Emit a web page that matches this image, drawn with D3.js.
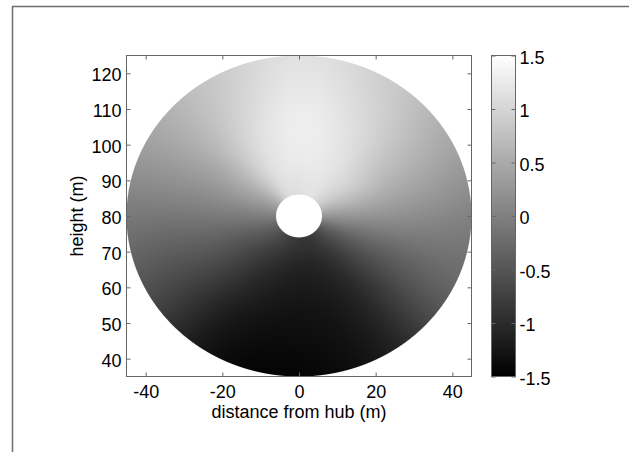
<!DOCTYPE html>
<html>
<head>
    <meta charset="utf-8">
    <title>Rotor disk field</title>
    <script src="https://d3js.org/d3.v7.min.js"></script>
    <style>
        body { margin: 0; background: #fff; }
        text { font-family: "Liberation Sans", Arial, sans-serif; }
    </style>
</head>
<body>
    <div id="chart"></div>

    <script>
        // axis ticks
        const xTicks = [-40, -20, 0, 20, 40];
        const yTicks = [40, 50, 60, 70, 80, 90, 100, 110, 120];
        const cTicks = [-1.5, -1, -0.5, 0, 0.5, 1, 1.5];

        // rotor geometry (m)
        const hubX = 0, hubY = 80;
        const hubRadius = 6, rotorRadius = 45;

        // field sampled on a polar grid (angle in degrees, counter-clockwise from +x)
        const radii = [6, 15, 25, 35, 45];
        const angles = [0, 30, 60, 90, 120, 150, 180, 210, 240, 270, 300, 330];
        const values = [
            [0.25, 0.25, 0.20, 0.12, 0.03],     // 0
            [0.85, 0.90, 0.74, 0.62, 0.50],     // 30
            [1.15, 1.20, 1.15, 1.03, 0.92],     // 60
            [1.12, 1.25, 1.30, 1.23, 1.15],     // 90
            [1.03, 1.10, 1.05, 0.93, 0.85],     // 120
            [0.45, 0.50, 0.45, 0.44, 0.44],     // 150
            [0.00, -0.05, -0.08, -0.10, -0.08], // 180
            [-0.40, -0.55, -0.60, -0.65, -0.62],// 210
            [-0.70, -0.92, -1.10, -1.24, -1.32],// 240
            [-0.85, -1.10, -1.26, -1.36, -1.44],// 270
            [-0.80, -0.98, -1.10, -1.15, -1.18],// 300
            [-0.45, -0.50, -0.50, -0.44, -0.38] // 330
        ];

        const width = 629, height = 452;
        const plot = {left: 126.5, right: 471.5, top: 55.5, bottom: 376.5};
        const cbar = {left: 491.5, right: 515.5};

        const svg = d3.select("#chart").append("svg")
            .attr("width", width)
            .attr("height", height);

        // outer frame
        svg.append("rect")
            .attr("x", 12.5).attr("y", 6.5)
            .attr("width", 700).attr("height", 500)
            .attr("fill", "none")
            .attr("stroke", "#6e6e6e")
            .attr("stroke-width", 1.5);

        const x = d3.scaleLinear().domain([-45, 45]).range([plot.left, plot.right]);
        const y = d3.scaleLinear().domain([35, 125]).range([plot.bottom, plot.top]);
        const c = d3.scaleLinear().domain([-1.5, 1.5]).range([plot.bottom, plot.top]);
        const color = d3.scaleLinear().domain([-1.5, 1.5]).range(["#000", "#fff"]).clamp(true);

        // Catmull-Rom through four samples
        function cr(p0, p1, p2, p3, t) {
            const t2 = t * t, t3 = t2 * t;
            return 0.5 * (2 * p1 + (-p0 + p2) * t + (2 * p0 - 5 * p1 + 4 * p2 - p3) * t2 + (-p0 + 3 * p1 - 3 * p2 + p3) * t3);
        }

        function alongRadius(row, r) {
            let k = 0;
            while (k < radii.length - 2 && r > radii[k + 1]) k++;
            const t = Math.max(0, Math.min(1, (r - radii[k]) / (radii[k + 1] - radii[k])));
            const p0 = row[Math.max(0, k - 1)], p1 = row[k], p2 = row[k + 1];
            const p3 = row[Math.min(radii.length - 1, k + 2)];
            return cr(p0, p1, p2, p3, t);
        }

        function sample(theta, r) {
            const n = angles.length;
            const step = 360 / n;
            const i1 = Math.floor(theta / step) % n;
            const t = theta / step - Math.floor(theta / step);
            const v = [-1, 0, 1, 2].map(o => alongRadius(values[(i1 + o + n) % n], r));
            return cr(v[0], v[1], v[2], v[3], t);
        }

        // draw the field into a canvas, using the scales for pixel -> data mapping
        const x0 = Math.floor(plot.left), y0 = Math.floor(plot.top);
        const W = Math.ceil(plot.right) - x0, H = Math.ceil(plot.bottom) - y0;
        const canvas = document.createElement("canvas");
        canvas.width = W; canvas.height = H;
        const ctx = canvas.getContext("2d");
        const img = ctx.createImageData(W, H);
        const pxPerUnit = Math.abs(y(0) - y(1));
        for (let j = 0; j < H; j++) {
            for (let i = 0; i < W; i++) {
                const xv = x.invert(x0 + i + 0.5);
                const yv = y.invert(y0 + j + 0.5);
                const dx = xv - hubX, dy = yv - hubY;
                const r = Math.hypot(dx, dy);
                const aOut = Math.max(0, Math.min(1, (rotorRadius - r) * pxPerUnit + 0.5));
                const aIn = Math.max(0, Math.min(1, (r - hubRadius) * pxPerUnit + 0.5));
                const alpha = Math.min(aOut, aIn);
                if (alpha <= 0) continue;
                let th = Math.atan2(dy, dx) * 180 / Math.PI;
                if (th < 0) th += 360;
                const col = d3.rgb(color(sample(th, r)));
                const p = (j * W + i) * 4;
                img.data[p] = col.r;
                img.data[p + 1] = col.g;
                img.data[p + 2] = col.b;
                img.data[p + 3] = Math.round(alpha * 255);
            }
        }
        ctx.putImageData(img, 0, 0);

        svg.append("image")
            .attr("x", x0).attr("y", y0)
            .attr("width", W).attr("height", H)
            .attr("href", canvas.toDataURL());

        const tickColor = "#666";
        const fmt = d => String(d);
        function styleAxis(g) {
            g.select(".domain").remove();
            g.selectAll(".tick line").attr("stroke", tickColor);
            g.selectAll(".tick text")
                .attr("fill", "#000")
                .attr("font-size", 18)
                .attr("font-family", "'Liberation Sans', Arial, sans-serif");
        }

        svg.append("g")
            .attr("transform", "translate(0," + plot.bottom + ")")
            .call(d3.axisBottom(x).tickValues(xTicks).tickFormat(fmt).tickSizeInner(-4).tickSizeOuter(0).tickPadding(9))
            .call(styleAxis);
        svg.append("g")
            .attr("transform", "translate(0," + plot.top + ")")
            .call(d3.axisTop(x).tickValues(xTicks).tickSizeInner(-4).tickSizeOuter(0).tickFormat(""))
            .call(styleAxis);
        svg.append("g")
            .attr("transform", "translate(" + plot.left + ",0)")
            .call(d3.axisLeft(y).tickValues(yTicks).tickFormat(fmt).tickSizeInner(-4).tickSizeOuter(0).tickPadding(5))
            .call(styleAxis)
            .selectAll(".tick text").attr("dy", "0.42em");
        svg.append("g")
            .attr("transform", "translate(" + plot.right + ",0)")
            .call(d3.axisRight(y).tickValues(yTicks).tickSizeInner(-4).tickSizeOuter(0).tickFormat(""))
            .call(styleAxis);

        svg.append("rect")
            .attr("x", plot.left).attr("y", plot.top)
            .attr("width", plot.right - plot.left)
            .attr("height", plot.bottom - plot.top)
            .attr("fill", "none")
            .attr("stroke", tickColor);

        // colorbar
        const grad = svg.append("defs").append("linearGradient")
            .attr("id", "cgrad")
            .attr("x1", 0).attr("y1", 1).attr("x2", 0).attr("y2", 0);
        grad.selectAll("stop")
            .data(cTicks)
            .join("stop")
              .attr("offset", d => (d + 1.5) / 3)
              .attr("stop-color", d => color(d));

        svg.append("rect")
            .attr("x", cbar.left).attr("y", plot.top)
            .attr("width", cbar.right - cbar.left)
            .attr("height", plot.bottom - plot.top)
            .attr("fill", "url(#cgrad)")
            .attr("stroke", tickColor);

        svg.append("g")
            .attr("transform", "translate(" + cbar.left + ",0)")
            .call(d3.axisLeft(c).tickValues(cTicks).tickSizeInner(-4).tickSizeOuter(0).tickFormat(""))
            .call(styleAxis);
        svg.append("g")
            .attr("transform", "translate(" + cbar.right + ",0)")
            .call(d3.axisRight(c).tickValues(cTicks).tickFormat(fmt).tickSizeInner(-4).tickSizeOuter(0).tickPadding(4))
            .call(styleAxis)
            .selectAll(".tick text").attr("dy", "0.42em");

        // labels
        svg.append("text")
            .attr("x", (plot.left + plot.right) / 2)
            .attr("y", 418)
            .attr("text-anchor", "middle")
            .attr("font-size", 18)
            .text("distance from hub (m)");

        svg.append("text")
            .attr("transform", "translate(83," + (plot.top + plot.bottom) / 2 + ") rotate(-90)")
            .attr("text-anchor", "middle")
            .attr("font-size", 18)
            .text("height (m)");
    </script>
</body>
</html>
